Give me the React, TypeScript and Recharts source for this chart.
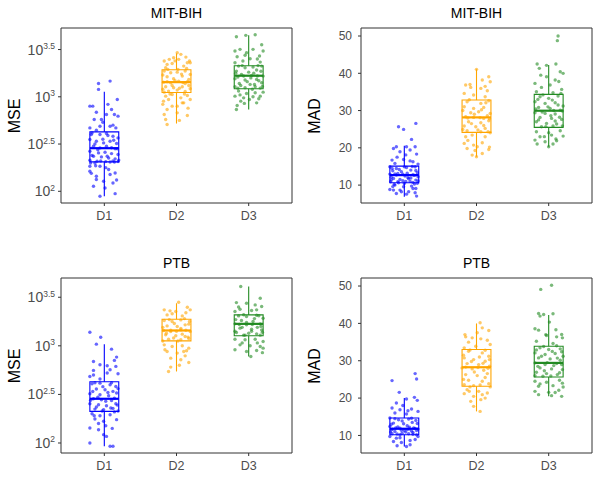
import React from 'react';
import { ScatterChart, Scatter, XAxis, YAxis, ReferenceArea, ReferenceLine } from 'recharts';

type Pt = [number, number];

const FONT = '"Liberation Sans", Arial, Helvetica, sans-serif';
const categories = ['D1', 'D2', 'D3'];
const groupColors = ['#0000FF', '#FFA500', '#228B22'];
const panelTitles = ['MIT-BIH', 'MIT-BIH', 'PTB', 'PTB'];
const yLabels = ['MSE', 'MAD', 'MSE', 'MAD'];
const mseTicks = [2, 2.5, 3, 3.5]; // log10 exponents
const madTicks = [10, 20, 30, 40, 50];

// Box stats per group: [lower whisker, q1, median, q3, upper whisker]
// MSE values are log10(MSE)
const mitMseBox = [
  [1.947, 2.311, 2.456, 2.629, 3.053],
  [2.717, 3.046, 3.155, 3.286, 3.459],
  [2.866, 3.085, 3.223, 3.329, 3.65],
];
const mitMadBox = [
  [6.9, 10.63, 12.68, 15.1, 20.56],
  [17.61, 24.14, 28.17, 32.82, 41.05],
  [20.29, 25.48, 29.96, 34.34, 42.21],
];
const ptbMseBox = [
  [1.966, 2.325, 2.455, 2.63, 3.017],
  [2.736, 3.051, 3.158, 3.274, 3.438],
  [2.89, 3.103, 3.226, 3.318, 3.61],
];
const ptbMadBox = [
  [7.05, 10.18, 11.79, 14.65, 20.02],
  [16.44, 23.15, 28.26, 33.0, 39.98],
  [20.47, 25.66, 29.42, 33.89, 42.22],
];

// Jittered points: [jitter offset in category units, value]
const mitMseD1: Pt[] = [
  [0.08, 3.166], [-0.08, 3.141], [-0.08, 3.078], [-0.2, 2.901], [-0.16, 2.901], [0.18, 2.972], [0.1, 2.866], [0.19, 2.795],
  [-0.11, 2.837], [0.03, 2.813], [0.14, 2.813], [-0.04, 2.76], [-0.14, 2.76], [-0.2, 2.671], [-0.06, 2.689], [0.08, 2.689],
  [0.16, 2.671], [-0.11, 2.647], [-0.17, 2.618], [-0.06, 2.601], [0.03, 2.611], [0.12, 2.583], [0.19, 2.565], [-0.2, 2.548],
  [-0.11, 2.53], [-0.01, 2.512], [0.08, 2.53], [0.17, 2.505], [-0.15, 2.477], [-0.06, 2.459], [0.03, 2.477], [0.15, 2.449],
  [-0.2, 2.424], [-0.08, 2.406], [0.01, 2.413], [0.1, 2.399], [0.19, 2.389], [-0.15, 2.371], [-0.04, 2.364], [0.06, 2.353],
  [0.15, 2.343], [-0.2, 2.329], [-0.1, 2.318], [0.02, 2.314], [0.12, 2.322], [0.19, 2.314], [-0.13, 2.3], [-0.2, 2.265],
  [-0.06, 2.265], [0.06, 2.23], [0.15, 2.194], [-0.2, 2.212], [-0.11, 2.159], [-0.01, 2.106], [0.12, 2.088], [-0.11, 2.124],
  [0.01, 2.035], [-0.06, 1.947], [0.15, 1.975], [-0.15, 2.053], [0.08, 2.177],
  [-0.18, 2.6], [0.05, 2.59], [-0.02, 2.55], [0.13, 2.54], [-0.13, 2.5], [0.1, 2.46], [-0.09, 2.44], [0.18, 2.45],
  [-0.17, 2.38], [0.04, 2.37], [0.14, 2.31], [-0.05, 2.32], [0.08, 2.31], [-0.19, 2.3], [0.2, 2.33], [-0.12, 2.27],
  [0.02, 2.25], [0.12, 2.7], [-0.02, 2.73], [0.05, 2.92], [-0.18, 2.19], [0.17, 2.12],
];
const mitMseD2: Pt[] = [
  [-0.17, 3.378], [-0.1, 3.396], [-0.04, 3.413], [0.06, 3.449], [0.03, 3.396], [0.15, 3.36], [0.18, 3.378], [-0.13, 3.343],
  [0.1, 3.325], [-0.06, 3.353], [0.01, 3.466], [-0.15, 3.307], [-0.17, 3.272], [-0.08, 3.254], [0.01, 3.261], [0.12, 3.272],
  [0.19, 3.237], [-0.13, 3.212], [-0.04, 3.191], [0.08, 3.219], [0.17, 3.184], [-0.18, 3.155], [-0.08, 3.148], [0.03, 3.166],
  [0.12, 3.141], [-0.15, 3.106], [-0.04, 3.095], [0.08, 3.106], [0.19, 3.085], [-0.11, 3.06], [0.01, 3.071], [0.12, 3.057],
  [-0.17, 3.049], [-0.15, 3.007], [-0.06, 3.025], [0.06, 2.989], [0.15, 3.014], [-0.18, 2.954], [-0.11, 2.972], [0.1, 2.936],
  [0.01, 2.901], [-0.13, 2.866], [-0.06, 2.901], [-0.17, 2.813], [0.01, 2.83], [-0.15, 2.76], [0.15, 2.802], [-0.13, 2.707],
  [0.08, 2.936], [0.19, 2.972],
  [-0.12, 3.29], [0.02, 3.29], [0.14, 3.3], [-0.19, 3.23], [0.07, 3.24], [-0.02, 3.17], [0.15, 3.16], [-0.13, 3.16],
  [0.09, 3.15], [-0.06, 3.12], [0.17, 3.12], [-0.19, 3.08], [0.04, 3.09], [-0.09, 3.03], [0.11, 3.03], [0.19, 3.36],
  [-0.02, 3.38], [-0.19, 2.92], [0.16, 2.88], [0.04, 2.75], [0.13, 3.42],
];
const mitMseD3: Pt[] = [
  [-0.04, 3.65], [0.09, 3.657], [-0.17, 3.636], [-0.19, 3.484], [-0.12, 3.502], [-0.03, 3.466], [0.06, 3.502], [0.2, 3.484],
  [0.15, 3.431], [-0.16, 3.424], [0.02, 3.403], [-0.08, 3.378], [0.16, 3.367], [-0.19, 3.36], [-0.14, 3.325], [-0.05, 3.307],
  [0.06, 3.314], [0.18, 3.325], [-0.17, 3.272], [0.0, 3.261], [0.11, 3.283], [-0.1, 3.237], [0.04, 3.226], [0.2, 3.219],
  [-0.19, 3.191], [-0.05, 3.177], [0.11, 3.184], [-0.13, 3.141], [0.02, 3.131], [0.18, 3.148], [-0.19, 3.106], [-0.05, 3.095],
  [0.09, 3.106], [0.16, 3.092], [-0.14, 3.06], [-0.03, 3.035], [0.09, 3.042], [0.2, 3.049], [-0.19, 3.007], [-0.07, 2.989],
  [0.06, 3.0], [0.16, 3.007], [-0.11, 2.954], [0.01, 2.972], [-0.16, 2.908], [-0.17, 2.866], [0.11, 2.936],
  [-0.09, 3.33], [0.13, 3.33], [-0.18, 3.25], [0.07, 3.25], [0.17, 3.27], [-0.07, 3.22], [0.12, 3.22], [-0.15, 3.21],
  [0.03, 3.2], [-0.02, 3.16], [0.14, 3.17], [-0.11, 3.12], [0.08, 3.13], [0.19, 3.11], [-0.15, 3.09], [0.05, 3.08],
  [-0.05, 3.44], [0.12, 3.4], [0.18, 3.55], [-0.12, 3.02], [0.14, 2.98], [-0.06, 2.93],
];

const mitMadD1: Pt[] = [
  [-0.08, 25.66], [-0.01, 24.94], [0.16, 26.55], [0.1, 22.26], [-0.11, 20.29], [-0.15, 19.84], [0.03, 20.29], [0.15, 20.29],
  [-0.06, 18.95], [0.08, 19.4], [0.17, 18.32], [-0.17, 16.71], [-0.01, 16.89], [0.12, 16.26], [-0.13, 15.82], [0.19, 15.64],
  [-0.2, 14.92], [-0.11, 14.47], [0.03, 14.74], [0.15, 14.92], [-0.16, 13.85], [-0.04, 13.58], [0.09, 14.03], [0.18, 13.31],
  [-0.2, 12.95], [-0.11, 12.68], [0.01, 12.42], [0.12, 12.77], [0.19, 12.24], [-0.15, 11.79], [-0.06, 11.52], [0.06, 11.7],
  [0.16, 11.34], [-0.19, 10.89], [-0.08, 10.63], [0.02, 10.98], [0.12, 10.72], [-0.13, 10.0], [-0.01, 9.55], [0.1, 9.73],
  [-0.2, 8.84], [-0.06, 8.66], [0.16, 9.11], [-0.11, 7.76], [0.03, 7.58], [0.17, 7.05], [0.06, 8.21], [-0.15, 8.66],
  [0.15, 7.94], [-0.18, 12.1], [0.05, 12.0], [-0.02, 11.2], [0.14, 10.3], [-0.09, 13.1], [0.08, 11.0], [-0.14, 10.2],
  [0.18, 10.5],
  [-0.17, 14.5], [0.0, 14.9], [0.11, 15.0], [-0.07, 14.2], [0.16, 13.9], [-0.13, 13.0], [0.04, 13.2], [-0.02, 12.9],
  [0.14, 12.6], [-0.18, 11.4], [0.09, 11.9], [-0.09, 10.9], [0.19, 11.1], [0.0, 10.4], [-0.16, 9.6], [0.12, 9.1],
  [-0.04, 8.2], [0.08, 16.5], [-0.1, 17.5], [0.02, 18.1],
];
const mitMadD2: Pt[] = [
  [0.0, 41.05], [0.17, 39.08], [0.08, 38.19], [0.19, 37.74], [-0.15, 36.85], [-0.08, 36.22], [0.06, 35.95], [0.15, 35.32],
  [-0.17, 34.61], [-0.04, 34.16], [0.12, 33.71], [-0.13, 32.37], [0.06, 31.92], [0.17, 32.64], [-0.17, 31.03], [-0.04, 30.58],
  [0.1, 30.85], [-0.08, 29.42], [0.03, 29.69], [0.19, 29.24], [-0.15, 28.35], [-0.04, 28.17], [0.1, 27.9], [-0.11, 27.0],
  [0.06, 26.73], [0.17, 27.27], [-0.17, 25.84], [-0.01, 25.66], [0.12, 25.21], [-0.13, 24.59], [0.06, 24.32], [0.19, 24.05],
  [-0.15, 22.98], [-0.06, 23.42], [0.12, 22.98], [-0.17, 21.19], [-0.04, 20.74], [0.08, 21.36], [-0.13, 19.84], [0.01, 20.29],
  [0.17, 19.57], [-0.06, 18.05], [0.08, 18.5], [0.0, 17.61],
  [-0.1, 32.9], [0.13, 32.1], [-0.19, 30.0], [0.07, 30.2], [-0.03, 29.0], [0.15, 28.6], [-0.12, 28.0], [0.05, 28.1],
  [0.18, 27.8], [-0.07, 26.5], [0.1, 26.0], [-0.19, 24.9], [0.02, 24.8], [0.16, 24.3], [-0.09, 37.0], [0.12, 36.5],
  [-0.12, 22.0], [0.18, 20.2], [-0.02, 19.3],
];
const mitMadD3: Pt[] = [
  [0.13, 50.0], [0.12, 48.75], [-0.16, 42.48], [-0.03, 42.13], [0.1, 42.48], [-0.13, 41.32], [0.16, 40.43], [0.2, 39.98],
  [-0.03, 39.08], [0.09, 38.19], [-0.19, 37.29], [0.02, 36.85], [-0.1, 36.22], [0.18, 35.68], [-0.17, 35.06], [0.06, 34.79],
  [-0.12, 33.71], [0.0, 33.27], [0.13, 33.89], [-0.19, 32.37], [-0.05, 31.92], [0.09, 32.1], [0.2, 31.21], [-0.14, 30.85],
  [0.02, 30.58], [0.16, 30.13], [-0.19, 29.42], [-0.05, 29.24], [0.09, 29.06], [-0.12, 28.17], [0.04, 27.9], [0.18, 27.63],
  [-0.17, 27.0], [-0.03, 26.55], [0.11, 26.38], [-0.1, 25.66], [0.06, 25.84], [-0.17, 24.32], [0.0, 24.05], [0.16, 24.59],
  [-0.12, 22.98], [0.04, 23.42], [0.2, 23.15], [-0.19, 22.08], [-0.05, 21.63], [0.11, 21.9], [-0.16, 21.01], [0.06, 21.01],
  [0.0, 20.29],
  [-0.08, 34.2], [0.17, 34.6], [-0.15, 33.0], [0.05, 32.8], [-0.01, 31.0], [0.13, 31.5], [-0.18, 30.4], [0.07, 30.0],
  [0.19, 29.9], [-0.09, 29.6], [0.03, 28.6], [0.15, 28.2], [-0.14, 27.5], [0.09, 27.2], [-0.04, 25.7], [0.19, 25.9],
  [-0.11, 39.5], [0.14, 37.8], [-0.06, 23.0], [0.1, 22.4],
];

const ptbMseD1: Pt[] = [
  [-0.2, 3.14], [-0.05, 3.089], [-0.11, 3.017], [0.1, 2.966], [0.17, 2.884], [-0.15, 2.839], [-0.06, 2.805], [0.04, 2.795],
  [0.16, 2.788], [-0.15, 2.747], [0.08, 2.753], [0.19, 2.712], [-0.2, 2.685], [-0.06, 2.658], [-0.17, 2.61], [-0.06, 2.616],
  [0.08, 2.599], [0.16, 2.582], [-0.11, 2.555], [0.01, 2.548], [0.12, 2.531], [-0.2, 2.507], [-0.06, 2.497], [0.06, 2.486],
  [0.17, 2.514], [-0.15, 2.455], [-0.04, 2.445], [0.1, 2.438], [-0.2, 2.404], [-0.08, 2.394], [0.03, 2.384], [0.16, 2.404],
  [-0.13, 2.349], [-0.01, 2.342], [0.12, 2.356], [0.19, 2.329], [-0.17, 2.301], [-0.06, 2.281], [0.08, 2.291], [0.17, 2.24],
  [-0.13, 2.247], [-0.01, 2.223], [-0.2, 2.154], [-0.08, 2.137], [0.02, 2.178], [-0.01, 2.086], [-0.2, 2.0], [0.08, 1.966],
  [0.12, 1.966], [0.03, 2.068],
  [-0.13, 2.62], [0.1, 2.62], [-0.02, 2.58], [0.19, 2.56], [-0.16, 2.53], [0.05, 2.52], [-0.09, 2.47], [0.14, 2.46],
  [-0.19, 2.44], [0.02, 2.43], [0.18, 2.39], [-0.11, 2.37], [0.09, 2.36], [-0.03, 2.33], [0.14, 2.32], [-0.15, 2.7],
  [0.04, 2.72], [0.14, 2.85], [-0.08, 2.2], [0.11, 2.15], [-0.14, 2.28],
];
const ptbMseD2: Pt[] = [
  [0.03, 3.449], [-0.17, 3.37], [-0.09, 3.36], [-0.01, 3.353], [0.15, 3.397], [0.19, 3.37], [-0.13, 3.318], [0.08, 3.308],
  [-0.17, 3.26], [-0.06, 3.25], [0.06, 3.267], [0.17, 3.223], [-0.13, 3.205], [0.01, 3.199], [0.12, 3.216], [-0.18, 3.158],
  [-0.08, 3.147], [0.06, 3.164], [0.19, 3.147], [-0.15, 3.113], [-0.01, 3.103], [0.12, 3.096], [-0.11, 3.068], [0.06, 3.062],
  [0.17, 3.075], [-0.17, 3.01], [-0.06, 2.993], [0.08, 3.0], [0.17, 2.976], [-0.13, 2.942], [0.01, 2.925], [0.12, 2.897],
  [-0.08, 2.873], [0.06, 2.856], [0.17, 2.829], [-0.08, 2.781], [-0.11, 2.736], [0.1, 2.942],
  [-0.1, 3.27], [0.11, 3.28], [-0.03, 3.23], [0.18, 3.25], [-0.19, 3.19], [0.06, 3.18], [-0.08, 3.16], [0.13, 3.16],
  [0.0, 3.15], [-0.14, 3.13], [0.08, 3.12], [-0.04, 3.08], [0.16, 3.09], [-0.19, 3.05], [0.02, 3.05], [-0.06, 3.33],
  [0.13, 3.34], [-0.16, 2.96], [0.14, 2.95], [0.04, 2.8],
];
const ptbMseD3: Pt[] = [
  [-0.11, 3.61], [0.16, 3.49], [-0.17, 3.445], [-0.03, 3.438], [0.09, 3.421], [0.18, 3.404], [-0.12, 3.377], [0.04, 3.363],
  [-0.19, 3.353], [-0.14, 3.308], [-0.03, 3.301], [0.11, 3.315], [0.2, 3.284], [-0.1, 3.26], [0.06, 3.25], [-0.19, 3.226],
  [-0.03, 3.216], [0.16, 3.226], [-0.12, 3.182], [0.04, 3.171], [0.18, 3.164], [-0.17, 3.137], [0.0, 3.13], [0.11, 3.123],
  [-0.07, 3.11], [-0.19, 3.068], [-0.05, 3.062], [0.09, 3.068], [0.2, 3.045], [-0.12, 3.01], [0.02, 3.0], [0.16, 2.993],
  [-0.19, 2.959], [-0.03, 2.942], [0.11, 2.952], [0.03, 2.89], [0.2, 2.976],
  [-0.07, 3.32], [0.14, 3.31], [-0.18, 3.27], [0.08, 3.28], [-0.03, 3.24], [0.17, 3.2], [-0.13, 3.22], [0.05, 3.22],
  [-0.09, 3.19], [0.12, 3.19], [0.19, 3.14], [-0.19, 3.15], [0.04, 3.15], [-0.05, 3.11], [0.16, 3.11], [-0.14, 3.4],
  [0.11, 3.37], [-0.09, 3.03], [0.12, 3.03], [0.19, 2.93],
];

const ptbMadD1: Pt[] = [
  [0.15, 26.55], [0.17, 25.12], [-0.17, 24.68], [-0.07, 21.54], [0.03, 19.75], [0.14, 20.2], [0.18, 19.4], [-0.11, 18.68],
  [-0.17, 17.34], [-0.06, 16.89], [0.1, 17.07], [0.19, 16.44], [-0.13, 16.0], [0.03, 15.73], [-0.2, 14.65], [-0.08, 14.21],
  [0.06, 14.38], [0.16, 14.03], [-0.15, 13.31], [-0.01, 13.13], [0.11, 13.49], [-0.2, 12.42], [-0.06, 11.97], [0.07, 12.24],
  [0.19, 11.7], [-0.13, 11.07], [0.0, 11.34], [0.12, 10.81], [-0.17, 10.45], [-0.06, 10.18], [0.17, 10.18], [0.06, 10.45],
  [-0.2, 9.73], [-0.11, 9.28], [0.19, 9.73], [-0.15, 8.39], [-0.04, 8.12], [0.08, 8.66], [-0.1, 7.23], [0.03, 7.05],
  [0.08, 7.49], [-0.18, 11.5], [0.04, 11.6], [0.15, 11.9], [-0.03, 10.6], [0.1, 11.2], [-0.12, 12.0],
  [-0.13, 14.5], [0.1, 14.6], [-0.03, 13.9], [0.18, 13.2], [-0.18, 13.0], [0.04, 12.6], [-0.09, 12.3], [0.13, 12.0],
  [-0.16, 11.7], [0.07, 11.7], [-0.04, 11.4], [0.17, 11.3], [-0.19, 10.9], [0.02, 10.9], [-0.1, 10.4], [0.12, 10.3],
  [-0.06, 9.4], [0.15, 8.9], [0.05, 16.6], [-0.02, 18.0],
];
const ptbMadD2: Pt[] = [
  [0.05, 40.16], [0.08, 38.81], [0.17, 38.1], [-0.15, 36.4], [-0.06, 36.13], [0.06, 35.86], [0.15, 35.5], [-0.11, 34.97],
  [0.19, 34.34], [-0.01, 33.89], [-0.17, 33.45], [-0.11, 32.55], [0.08, 32.1], [0.17, 31.21], [-0.17, 30.76], [-0.04, 30.31],
  [0.12, 29.87], [-0.13, 29.24], [0.03, 28.97], [0.18, 28.52], [-0.2, 28.08], [-0.06, 27.81], [0.1, 27.45], [-0.15, 26.29],
  [0.01, 26.02], [0.15, 26.55], [-0.11, 24.77], [0.08, 24.5], [-0.17, 23.6], [-0.04, 23.33], [0.17, 23.87], [-0.13, 22.26],
  [0.03, 21.81], [0.15, 21.36], [-0.17, 21.19], [-0.04, 20.47], [0.08, 20.92], [-0.08, 19.13], [0.06, 19.58], [-0.04, 17.79],
  [0.05, 16.44],
  [-0.09, 32.9], [0.12, 32.8], [-0.18, 31.5], [0.04, 31.0], [0.18, 30.3], [-0.07, 29.8], [0.09, 29.3], [-0.15, 28.3],
  [0.02, 28.2], [0.16, 28.0], [-0.03, 27.0], [0.12, 25.5], [-0.18, 25.0], [0.05, 23.5], [0.19, 23.0], [-0.09, 23.0],
  [0.01, 37.5], [-0.16, 37.0], [0.12, 20.0], [-0.1, 21.8],
];
const ptbMadD3: Pt[] = [
  [0.04, 50.2], [-0.11, 49.1], [-0.14, 42.66], [-0.07, 42.39], [0.06, 42.57], [0.01, 40.34], [-0.12, 41.95], [-0.19, 38.55],
  [-0.14, 38.19], [0.18, 37.03], [-0.03, 36.76], [0.11, 36.4], [-0.17, 35.23], [0.19, 36.13], [0.06, 34.61], [-0.12, 33.45],
  [0.0, 33.0], [0.16, 33.18], [-0.19, 32.1], [-0.05, 31.66], [0.09, 31.92], [0.2, 31.21], [-0.14, 30.76], [0.02, 30.49],
  [0.16, 30.13], [-0.19, 29.42], [-0.05, 28.97], [0.11, 29.24], [-0.12, 28.08], [0.04, 27.81], [0.19, 27.63], [-0.17, 26.91],
  [-0.03, 26.55], [0.12, 26.29], [-0.08, 25.84], [-0.19, 24.5], [-0.03, 24.23], [0.15, 24.77], [-0.14, 23.15], [0.06, 23.33],
  [0.2, 22.97], [-0.19, 21.81], [0.0, 21.54], [0.14, 22.08], [-0.14, 20.92], [0.18, 20.47], [0.04, 20.65],
  [-0.07, 33.8], [0.11, 34.0], [-0.17, 32.9], [0.05, 32.5], [0.18, 32.4], [-0.1, 31.2], [0.12, 30.7], [-0.02, 29.5],
  [0.18, 29.0], [-0.15, 28.5], [0.07, 28.7], [-0.06, 27.3], [0.15, 26.8], [-0.19, 26.0], [0.03, 25.9], [0.1, 38.3],
  [-0.04, 37.0], [-0.12, 23.8], [0.09, 21.5], [0.19, 24.0],
];

const MseTick = (props: any) => {
  const { x, y, payload } = props;
  const v = payload.value as number;
  const exp = Number.isInteger(v) ? String(v) : v.toFixed(1);
  return (
    <text x={x} y={y} textAnchor="end" fill="#4D4D4D" fontFamily={FONT}>
      <tspan fontSize={14} dy={5}>10</tspan>
      <tspan fontSize={8.5} dy={-5.5}>{exp}</tspan>
    </text>
  );
};

interface PanelProps {
  left: number;
  top: number;
  domain: [number, number];
  ticks: number[];
  boxes: number[][];
  groups: Pt[][];
  log: boolean;
}

const Panel = ({ left, top, domain, ticks, boxes, groups, log }: PanelProps) => {
  const BW = 0.2;
  return (
    <div style={{ position: 'absolute', left, top }}>
      <ScatterChart width={300} height={250} margin={{ top: 28, right: 8, bottom: 0, left: 0 }}>
        <XAxis
          type="number"
          dataKey="x"
          domain={[0.4, 3.6]}
          ticks={[1, 2, 3]}
          interval={0}
          allowDataOverflow
          tickFormatter={(v: number) => categories[Math.round(v) - 1]}
          axisLine={false}
          tickLine={{ stroke: '#333333' }}
          tickSize={3}
          tickMargin={5}
          height={47}
          tick={{ fill: '#4D4D4D', fontSize: 12.5, fontFamily: FONT }}
        />
        <YAxis
          type="number"
          dataKey="y"
          domain={domain}
          ticks={ticks}
          interval={0}
          allowDataOverflow
          width={61}
          axisLine={false}
          tickLine={{ stroke: '#333333' }}
          tickSize={3}
          tickMargin={log ? 3 : 6}
          tick={log ? (p: any) => <MseTick {...p} /> : { fill: '#4D4D4D', fontSize: 12, fontFamily: FONT }}
        />
        <ReferenceArea
          x1={0.4}
          x2={3.6}
          y1={domain[0]}
          y2={domain[1]}
          fill="none"
          fillOpacity={0}
          stroke="#333333"
          strokeWidth={1}
          ifOverflow="visible"
        />
        {boxes.map((b, i) => {
          const g = i + 1;
          const c = groupColors[i];
          return (
            <React.Fragment key={'box' + i}>
              <ReferenceLine
                segment={[{ x: g, y: b[3] }, { x: g, y: b[4] }]}
                stroke={c}
                strokeWidth={1.1}
                ifOverflow="visible"
              />
              <ReferenceLine
                segment={[{ x: g, y: b[0] }, { x: g, y: b[1] }]}
                stroke={c}
                strokeWidth={1.1}
                ifOverflow="visible"
              />
              <ReferenceArea
                x1={g - BW}
                x2={g + BW}
                y1={b[1]}
                y2={b[3]}
                fill="none"
                fillOpacity={0}
                stroke={c}
                strokeWidth={1.1}
                strokeOpacity={1}
                ifOverflow="visible"
              />
              <ReferenceLine
                segment={[{ x: g - BW, y: b[2] }, { x: g + BW, y: b[2] }]}
                stroke={c}
                strokeWidth={2.2}
                ifOverflow="visible"
              />
            </React.Fragment>
          );
        })}
        {groups.map((pts, i) => {
          const c = groupColors[i];
          const data = pts.map(([j, v]) => ({ x: i + 1 + j, y: v }));
          return (
            <Scatter
              key={'pts' + i}
              data={data}
              isAnimationActive={false}
              shape={(p: any) => <circle cx={p.cx} cy={p.cy} r={1.7} fill={c} fillOpacity={0.6} />}
            />
          );
        })}
      </ScatterChart>
    </div>
  );
};

const panels = [
  { left: 0, top: 0, domain: [1.876, 3.728] as [number, number], ticks: mseTicks, boxes: mitMseBox, groups: [mitMseD1, mitMseD2, mitMseD3], log: true },
  { left: 300, top: 0, domain: [5.2, 52.15] as [number, number], ticks: madTicks, boxes: mitMadBox, groups: [mitMadD1, mitMadD2, mitMadD3], log: false },
  { left: 0, top: 250, domain: [1.897, 3.698] as [number, number], ticks: mseTicks, boxes: ptbMseBox, groups: [ptbMseD1, ptbMseD2, ptbMseD3], log: true },
  { left: 300, top: 250, domain: [5.3, 52.15] as [number, number], ticks: madTicks, boxes: ptbMadBox, groups: [ptbMadD1, ptbMadD2, ptbMadD3], log: false },
];

export default function App() {
  return (
    <div style={{ position: 'absolute', left: 0, top: 0, width: 600, height: 500, background: '#ffffff', overflow: 'hidden' }}>
      {panels.map((p, i) => (
        <Panel key={i} {...p} />
      ))}
      <svg width={600} height={500} style={{ position: 'absolute', left: 0, top: 0, pointerEvents: 'none' }}>
        {panels.map((p, i) => (
          <React.Fragment key={'t' + i}>
            <text
              x={p.left + 176.5}
              y={p.top + 18.3}
              textAnchor="middle"
              fontSize={14}
              fontWeight="normal"
              fontFamily={FONT}
              fill="#000000"
            >
              {panelTitles[i]}
            </text>
            <text
              transform={`translate(${p.left + 19.5},${p.top + 116}) rotate(-90)`}
              textAnchor="middle"
              fontSize={16}
              fontFamily={FONT}
              fill="#000000"
            >
              {yLabels[i]}
            </text>
          </React.Fragment>
        ))}
      </svg>
    </div>
  );
}
